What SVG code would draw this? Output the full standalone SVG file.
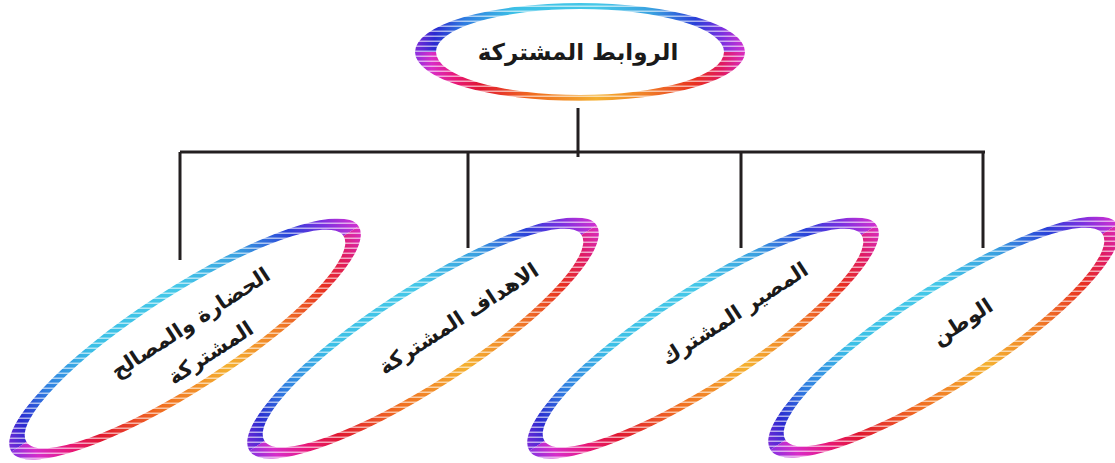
<svg xmlns="http://www.w3.org/2000/svg" xmlns:xlink="http://www.w3.org/1999/xlink" width="1115" height="463" viewBox="0 0 1115 463">
<style>
.lbl{font-family:"DejaVu Sans","Noto Sans",sans-serif;font-weight:bold;fill:#1a1a1a;text-anchor:middle}
.conn{stroke:#231f20;stroke-width:3;fill:none}
</style>
<defs>
<linearGradient id="gUp" x1="0" y1="0" x2="1" y2="0">
<stop offset="0" stop-color="#7a2ad8"/>
<stop offset="0.06" stop-color="#2a2ad0"/>
<stop offset="0.15" stop-color="#2f7de0"/>
<stop offset="0.3" stop-color="#3cc0e6"/>
<stop offset="0.55" stop-color="#45c8e8"/>
<stop offset="0.72" stop-color="#3aa0e0"/>
<stop offset="0.85" stop-color="#2a40d8"/>
<stop offset="0.93" stop-color="#7a30e0"/>
<stop offset="1" stop-color="#d030d0"/>
</linearGradient>
<linearGradient id="gDn" x1="0" y1="0" x2="1" y2="0">
<stop offset="0" stop-color="#8a30e0"/>
<stop offset="0.05" stop-color="#d82cc8"/>
<stop offset="0.12" stop-color="#e8187a"/>
<stop offset="0.2" stop-color="#e01830"/>
<stop offset="0.35" stop-color="#f06a20"/>
<stop offset="0.55" stop-color="#f4b030"/>
<stop offset="0.7" stop-color="#f08028"/>
<stop offset="0.85" stop-color="#e83020"/>
<stop offset="0.93" stop-color="#e01a60"/>
<stop offset="1" stop-color="#d82cc0"/>
</linearGradient>
<pattern id="stT" width="8" height="5" patternUnits="userSpaceOnUse">
<rect width="8" height="5" fill="#fff"/>
<rect y="3.5" width="8" height="1.5" fill="#666"/>
</pattern>
<pattern id="stB" width="8" height="5" patternUnits="userSpaceOnUse" patternTransform="rotate(33)">
<rect width="8" height="5" fill="#fff"/>
<rect y="3.5" width="8" height="1.5" fill="#666"/>
</pattern>
<mask id="mT" maskUnits="userSpaceOnUse" x="-200" y="-80" width="400" height="160">
<rect x="-200" y="-80" width="400" height="160" fill="url(#stT)"/>
</mask>
<mask id="mB" maskUnits="userSpaceOnUse" x="-250" y="-100" width="500" height="200">
<rect x="-250" y="-100" width="500" height="200" fill="url(#stB)"/>
</mask>
<g id="ringB">
<ellipse rx="195" ry="45" fill="#fff"/>
<g mask="url(#mB)">
<path d="M-207 0 A207 51 0 0 1 207 0 L189 0 A189 44 0 0 0 -189 0 Z" fill="url(#gUp)"/>
<path d="M207 0 A207 51 0 0 1 -207 0 L-189 0 A189 44 0 0 0 189 0 Z" fill="url(#gDn)"/>
</g>
</g>
<g id="ringT">
<ellipse rx="150" ry="44" fill="#fff"/>
<g mask="url(#mT)">
<path d="M-165 0 A165 49 0 0 1 165 0 L144 0 A144 43 0 0 0 -144 0 Z" fill="url(#gUp)"/>
<path d="M165 0 A165 49 0 0 1 -165 0 L-144 0 A144 43 0 0 0 144 0 Z" fill="url(#gDn)"/>
</g>
</g>
</defs>
<rect width="1115" height="463" fill="#fff"/>
<g id="connectors">
<path class="conn" d="M578 108 V157 M180 152 H985 M180 152 V260 M468 152 V248 M741 152 V248 M983 152 V248"/>
</g>
<g id="node-root">
<use xlink:href="#ringT" transform="translate(580,52)"/>
<text class="lbl" x="578" y="60" font-size="23">الروابط المشتركة</text>
</g>
<g id="node-civilization">
<use xlink:href="#ringB" transform="translate(185,339) rotate(-33)"/>
<text class="lbl" font-size="21" transform="translate(190,322) rotate(-33)" y="8">الحضارة والمصالح</text>
<text class="lbl" font-size="21" transform="translate(210,352) rotate(-33)" y="8">المشتركة</text>
</g>
<g id="node-goals">
<use xlink:href="#ringB" transform="translate(423,338) rotate(-33)"/>
<text class="lbl" font-size="21" transform="translate(458,318) rotate(-33)" y="8">الاهداف المشتركة</text>
</g>
<g id="node-destiny">
<use xlink:href="#ringB" transform="translate(703,338) rotate(-33)"/>
<text class="lbl" font-size="21" transform="translate(734,313) rotate(-33)" y="8">المصير  المشترك</text>
</g>
<g id="node-homeland">
<use xlink:href="#ringB" transform="translate(944,337) rotate(-33)"/>
<text class="lbl" font-size="21" transform="translate(962,321) rotate(-33)" y="8">الوطن</text>
</g>
</svg>
